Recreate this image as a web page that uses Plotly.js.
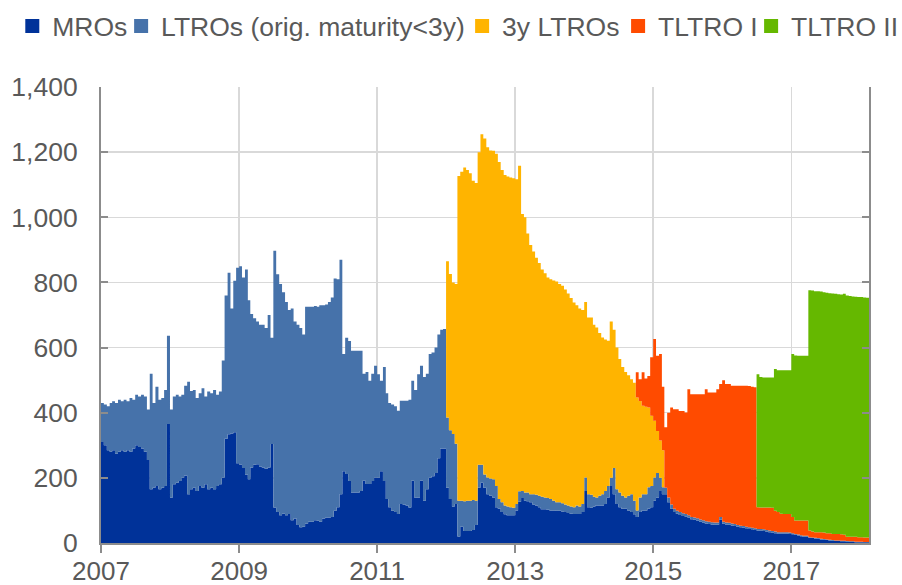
<!DOCTYPE html>
<html>
<head>
<meta charset="utf-8">
<script src="https://cdn.plot.ly/plotly-3.0.1.min.js"></script>
<style>html,body{margin:0;padding:0;background:#fff;}#chart{width:902px;height:585px;}</style>
</head>
<body>
<div id="chart"></div>
<script>
// Semi-monthly observation dates (1st and 16th of each month), Jan 2007 - Feb 2018
const dates = [];
for (let y = 2007; y <= 2018; y++) {
  for (let m = 1; m <= 12; m++) {
    if (y === 2018 && m > 2) break;
    for (const d of [1, 16]) {
      dates.push(y + '-' + String(m).padStart(2, '0') + '-' + String(d).padStart(2, '0'));
    }
  }
}

const seriesNames = ['MROs', 'LTROs (orig. maturity<3y)', '3y LTROs', 'TLTRO I', 'TLTRO II'];
const seriesColors = ['#003299', '#4672AA', '#FFB400', '#FF4B00', '#65B800'];

// EUR billions, values
const mro = [
  310,300,285,280,285,275,280,285,280,285,280,290,300,295,290,280,255,165,170,175,165,170,175,365, // 2007
  140,180,185,190,200,207,150,165,170,160,175,170,180,165,170,165,175,180,200,320,334,336,340,245, // 2008
  240,230,210,196,232,240,242,235,232,228,232,304,109,95,85,90,85,89,70,75,55,48,50,60,           // 2009
  65,65,70,68,65,75,78,78,80,99,110,150,220,212,190,155,155,155,160,191,181,181,190,201,           // 2010
  200,220,190,135,110,99,95,89,120,118,115,109,191,140,140,191,130,165,200,205,215,260,290,290,    // 2011
  170,135,112,120,20,50,37,37,37,40,55,170,185,170,150,145,140,110,105,95,88,85,85,85,             // 2012
  100,127,138,130,128,125,118,115,110,104,104,102,100,100,99,99,97,95,92,90,89,89,89,95,           // 2013
  160,110,109,112,115,115,115,120,140,175,150,120,110,105,105,100,95,88,80,95,100,100,105,110,     // 2014
  130,140,160,150,150,125,105,95,90,86,83,81,78,73,71,69,65,63,60,58,57,56,56,72,                  // 2015
  59,57,56,54,52,50,48,47,45,43,42,40,38,38,37,35,33,32,30,29,29,29,29,28,                         // 2016
  27,25,23,21,19,19,16,15,14,13,11,10,9,8,7,6,6,5,5,4,3,3,2,2,                                     // 2017
  2,2,2,2                                                                                          // 2018
];

const ltro = [
  120,125,135,150,150,155,160,150,160,150,165,150,155,155,165,170,155,355,260,305,275,275,295,271, // 2007
  270,270,270,260,255,276,345,302,300,285,285,305,270,300,290,305,280,285,360,440,496,384,465,600, // 2008
  610,585,630,549,471,450,438,435,438,432,468,326,788,730,710,680,655,626,650,605,615,612,590,665, // 2009
  660,660,658,657,665,655,654,662,674,713,700,720,360,418,430,435,435,435,430,329,344,317,330,343, // 2010
  318,278,350,325,320,326,325,317,317,319,322,331,307,330,378,353,380,355,380,380,385,380,365,367, // 2011
  215,211,223,185,110,80,91,93,93,92,75,70,55,40,51,53,56,65,30,30,27,27,25,23,                    // 2012
  20,32,22,25,27,25,32,33,35,38,36,36,35,30,26,26,25,23,23,22,21,26,23,25,                         // 2013
  41,40,39,30,25,30,35,40,35,25,80,45,45,40,35,45,55,42,20,45,50,50,66,65,                         // 2014
  71,75,40,21,20,15,13,10,9,9,8,8,7,7,7,7,7,7,7,7,7,7,7,8,                                         // 2015
  6,6,6,6,6,5,5,5,5,5,5,5,5,5,5,5,5,5,5,4,4,4,4,4,                                                 // 2016
  3,3,3,3,3,3,2,2,2,2,2,2,2,2,2,2,2,2,2,2,2,2,2,2,                                                 // 2017
  2,1,1,1                                                                                          // 2018
];

const ltro3y = [
  0,0,0,0,0,0,0,0,0,0,0,0,0,0,0,0,0,0,0,0,0,0,0,0, // 2007
  0,0,0,0,0,0,0,0,0,0,0,0,0,0,0,0,0,0,0,0,0,0,0,0, // 2008
  0,0,0,0,0,0,0,0,0,0,0,0,0,0,0,0,0,0,0,0,0,0,0,0, // 2009
  0,0,0,0,0,0,0,0,0,0,0,0,0,0,0,0,0,0,0,0,0,0,0,0, // 2010
  0,0,0,0,0,0,0,0,0,0,0,0,0,0,0,0,0,0,0,0,0,0,0,0, // 2011
  480,480,465,490,997,1010,1025,1015,1005,980,975,960,1015,1032,1014,1007,1008,1020,1035,1020,1015,1013,1012,1012, // 2012
  997,999,850,845,795,765,745,728,715,698,688,677,675,676,678,670,668,660,651,640,628,615,608,595, // 2013
  539,542,544,528,522,500,481,465,446,480,425,435,410,395,385,370,353,362,347,296,271,268,245,216, // 2014
  174,129,115,114,0,0,0,0,0,0,0,0,0,0,0,0,0,0,0,0,0,0,0,0, // 2015
  0,0,0,0,0,0,0,0,0,0,0,0,0,0,0,0,0,0,0,0,0,0,0,0, // 2016
  0,0,0,0,0,0,0,0,0,0,0,0,0,0,0,0,0,0,0,0,0,0,0,0, // 2017
  0,0,0,0                                          // 2018
];

const tltro1 = [
  0,0,0,0,0,0,0,0,0,0,0,0,0,0,0,0,0,0,0,0,0,0,0,0, // 2007
  0,0,0,0,0,0,0,0,0,0,0,0,0,0,0,0,0,0,0,0,0,0,0,0, // 2008
  0,0,0,0,0,0,0,0,0,0,0,0,0,0,0,0,0,0,0,0,0,0,0,0, // 2009
  0,0,0,0,0,0,0,0,0,0,0,0,0,0,0,0,0,0,0,0,0,0,0,0, // 2010
  0,0,0,0,0,0,0,0,0,0,0,0,0,0,0,0,0,0,0,0,0,0,0,0, // 2011
  0,0,0,0,0,0,0,0,0,0,0,0,0,0,0,0,0,0,0,0,0,0,0,0, // 2012
  0,0,0,0,0,0,0,0,0,0,0,0,0,0,0,0,0,0,0,0,0,0,0,0, // 2013
  0,0,0,0,0,0,0,0,0,0,0,0,0,0,0,0,0,0,77,67,103,87,97,179, // 2014
  251,231,265,195,185,260,298,306,312,310,314,312,387,377,379,381,385,387,405,397,398,399,409,408, // 2015
  435,425,426,423,425,428,430,431,433,434,433,433,67,66,67,69,71,71,64,62,57,56,56,57, // 2016
  50,41,43,45,47,47,20,18,17,18,20,20,19,20,19,20,20,20,18,13,14,14,15,14, // 2017
  14,14,14,14                                      // 2018
];

const tltro2 = [
  0,0,0,0,0,0,0,0,0,0,0,0,0,0,0,0,0,0,0,0,0,0,0,0, // 2007
  0,0,0,0,0,0,0,0,0,0,0,0,0,0,0,0,0,0,0,0,0,0,0,0, // 2008
  0,0,0,0,0,0,0,0,0,0,0,0,0,0,0,0,0,0,0,0,0,0,0,0, // 2009
  0,0,0,0,0,0,0,0,0,0,0,0,0,0,0,0,0,0,0,0,0,0,0,0, // 2010
  0,0,0,0,0,0,0,0,0,0,0,0,0,0,0,0,0,0,0,0,0,0,0,0, // 2011
  0,0,0,0,0,0,0,0,0,0,0,0,0,0,0,0,0,0,0,0,0,0,0,0, // 2012
  0,0,0,0,0,0,0,0,0,0,0,0,0,0,0,0,0,0,0,0,0,0,0,0, // 2013
  0,0,0,0,0,0,0,0,0,0,0,0,0,0,0,0,0,0,0,0,0,0,0,0, // 2014
  0,0,0,0,0,0,0,0,0,0,0,0,0,0,0,0,0,0,0,0,0,0,0,0, // 2015
  0,0,0,0,0,0,0,0,0,0,0,0,408,401,399,399,399,400,435,435,440,441,441,441, // 2016
  500,507,506,506,506,506,738,740,740,740,739,738,738,737,738,737,736,736,740,741,739,738,737,737, // 2017
  737,737,736,736                                  // 2018
];

const yTickVals = [0, 200, 400, 600, 800, 1000, 1200, 1400];

const FONT = '"Liberation Sans", Arial, sans-serif';
const TXT = '#595959';
const AX = '#8c8c8c';
const GRID = '#d9d9d9';

const allSeries = [mro, ltro, ltro3y, tltro1, tltro2];
const traces = [];
allSeries.forEach((vals, i) => {
  traces.push({
    type: 'scatter', x: dates, y: vals, name: seriesNames[i],
    stackgroup: 'ops', mode: 'none', line: {shape: 'hv', width: 0},
    fillcolor: seriesColors[i], showlegend: false, hoverinfo: 'x+y+name'
  });
});
// legend keys (one legend per key so the spacing can follow the reference)
const legendIds = ['legend', 'legend2', 'legend3', 'legend4', 'legend5'];
seriesNames.forEach((nm, i) => {
  traces.push({
    type: 'scatter', x: [null], y: [null], mode: 'markers', name: nm,
    marker: {symbol: 'square', size: 14, color: seriesColors[i]},
    legend: legendIds[i], showlegend: true, hoverinfo: 'skip'
  });
});

const legendX = [-0.1155, 0.0262, 0.4702, 0.6733, 0.8465];
const layout = {
  width: 902, height: 585,
  margin: {l: 101, r: 33, t: 87, b: 42, autoexpand: false},
  paper_bgcolor: '#ffffff', plot_bgcolor: '#ffffff',
  font: {family: FONT, color: TXT, size: 26.5},
  showlegend: true,
  xaxis: {
    type: 'date', range: ['2007-01-01', '2018-02-16'],
    tick0: '2007-01-01', dtick: 'M24', tickformat: '%Y',
    showgrid: true, gridcolor: GRID, gridwidth: 1.5,
    showline: true, linecolor: AX, linewidth: 2,
    ticks: 'outside', ticklen: 8, tickwidth: 2, tickcolor: AX,
    tickfont: {family: FONT, size: 26, color: TXT},
    ticklabelstandoff: -4,
    zeroline: false, fixedrange: true
  },
  yaxis: {
    range: [0, 1400], tickvals: yTickVals, tickformat: ',d',
    showgrid: true, gridcolor: GRID, gridwidth: 1.5,
    showline: true, linecolor: AX, linewidth: 2, mirror: 'ticks',
    ticks: 'inside', ticklen: 7, tickwidth: 2, tickcolor: AX,
    tickfont: {family: FONT, size: 26.5, color: TXT},
    ticklabelstandoff: 16,
    zeroline: false, fixedrange: true
  }
};
legendIds.forEach((id, i) => {
  layout[id] = {
    x: legendX[i], y: 1.133, xanchor: 'left', yanchor: 'middle',
    orientation: 'h', bgcolor: 'rgba(0,0,0,0)', borderwidth: 0,
    itemwidth: 30, font: {family: FONT, size: 26.5, color: TXT}
  };
});

Plotly.newPlot('chart', traces, layout, {displayModeBar: false, staticPlot: true});
</script>
</body>
</html>
